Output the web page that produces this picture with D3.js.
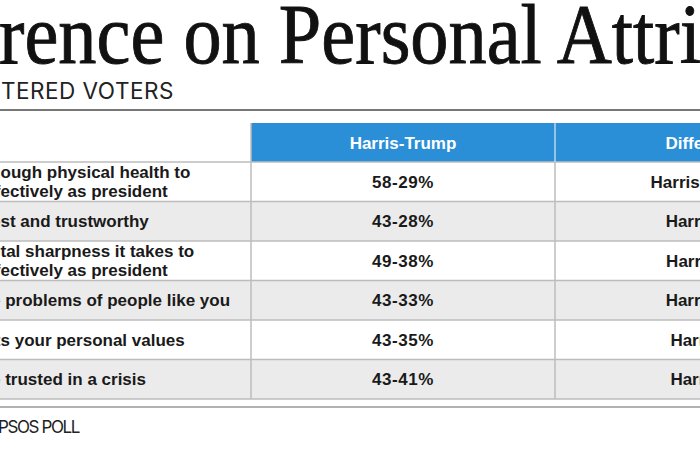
<!DOCTYPE html>
<meta charset="utf-8">
<style>
  body { margin: 0; background: #fff; }
  svg { display: block; }
</style>
<body>
<script src="https://cdn.jsdelivr.net/npm/d3@7"></script>
<script>

// table content
var title = "Difference on Personal Attributes";
var subtitle = "REGISTERED VOTERS";
var source = "REUTERS/IPSOS POLL";
var columns = ["Harris-Trump", "Difference"];
var attributes = [
  ["Has enough physical health to", "serve effectively as president"],
  ["Honest and trustworthy"],
  ["Has the mental sharpness it takes to", "serve effectively as president"],
  ["Understands the problems of people like you"],
  ["Represents your personal values"],
  ["Can be trusted in a crisis"]
];
var harrisTrump = ["58-29%", "43-28%", "49-38%", "43-33%", "43-35%", "43-41%"];
var difference = ["Harris +29 pts", "Harris +15", "Harris +11", "Harris +10", "Harris +8", "Harris +2"];
// how many characters of each label line fall outside the cropped picture
var cropAt = [[6, 9], [4], [11, 9], [15], [9], [6]];

var width = 700,
    height = 450;

var sans = "'Liberation Sans', Arial, sans-serif";

var svg = d3.select("body").append("svg")
    .attr("width", width)
    .attr("height", height);

// shift a text left so that its first n chars fall off the picture
function crop(sel, n, x0) {
  sel.each(function() {
    var w = n > 0 ? this.getSubStringLength(0, n) : 0;
    d3.select(this).attr("x", x0 - w);
  });
}

// title: set tall, then squeezed to the reference's narrower face
var t = svg.append("text")
    .attr("font-family", "'Liberation Serif', 'DejaVu Serif', serif")
    .attr("font-size", 85)
    .attr("fill", "#111")
    .attr("stroke", "#111")
    .attr("stroke-width", 0.9)
    .text(title);
var pre = t.node().getSubStringLength(0, 5);
var seen = t.node().getSubStringLength(5, 23);
var sx = 702 / seen;
t.attr("x", -pre).attr("transform", "translate(-1,63) scale(" + sx + ",1)");

svg.append("text")
    .attr("y", 99)
    .attr("font-family", "Inter, 'Liberation Sans', sans-serif")
    .attr("font-size", 22.5)
    .attr("letter-spacing", 0.5)
    .attr("fill", "#222")
    .text(subtitle)
    .call(crop, 5, 1);

svg.append("line")
    .attr("x1", 0).attr("x2", width)
    .attr("y1", 110).attr("y2", 110)
    .attr("stroke", "#777").attr("stroke-width", 2);

// scales
var y = d3.scaleBand()
    .domain(d3.range(attributes.length))
    .range([162, 399]);

var x = d3.scaleBand()
    .domain(columns)
    .range([251, 859]);

var headTop = 123;

// row backgrounds
svg.append("g").selectAll("rect")
  .data(attributes)
  .join("rect")
    .attr("x", 0)
    .attr("y", function(d, i) { return y(i); })
    .attr("width", width)
    .attr("height", y.bandwidth())
    .attr("fill", function(d, i) { return i % 2 ? "#ebebeb" : "#fff"; });

// header
svg.append("rect")
    .attr("x", x.range()[0])
    .attr("y", headTop)
    .attr("width", x.range()[1] - x.range()[0])
    .attr("height", y.range()[0] - headTop)
    .attr("fill", "#2a8fd7");

svg.append("g").selectAll("text")
  .data(columns)
  .join("text")
    .attr("x", function(d) { return x(d) + x.bandwidth() / 2; })
    .attr("y", (headTop + y.range()[0]) / 2 + 6)
    .attr("text-anchor", "middle")
    .attr("font-family", sans)
    .attr("font-weight", "bold")
    .attr("font-size", 17)
    .attr("fill", "#fff")
    .text(function(d) { return d; });

// grid lines
svg.append("g").selectAll("line")
  .data(d3.range(attributes.length + 1))
  .join("line")
    .attr("x1", 0).attr("x2", width)
    .attr("y1", function(i) { return i < attributes.length ? y(i) : y.range()[1]; })
    .attr("y2", function(i) { return i < attributes.length ? y(i) : y.range()[1]; })
    .attr("stroke", "#bcbcbc").attr("stroke-width", 1.5);

svg.append("g").selectAll("line")
  .data(columns)
  .join("line")
    .attr("x1", function(d) { return x(d); })
    .attr("x2", function(d) { return x(d); })
    .attr("y1", function(d, i) { return i ? y.range()[0] : headTop; })
    .attr("y2", y.range()[1])
    .attr("stroke", "#bcbcbc")
    .attr("stroke-width", 1.5);

svg.append("line")
    .attr("x1", x("Difference")).attr("x2", x("Difference"))
    .attr("y1", headTop).attr("y2", y.range()[0])
    .attr("stroke", "#bcd6ea").attr("stroke-width", 1.5);

// row labels
var rowsG = svg.append("g")
    .attr("font-family", sans)
    .attr("font-weight", "bold")
    .attr("fill", "#1a1a1a");

attributes.forEach(function(lines, i) {
  var mid = y(i) + y.bandwidth() / 2;
  lines.forEach(function(line, j) {
    rowsG.append("text")
        .attr("y", mid + 6 + (j - (lines.length - 1) / 2) * 19)
        .attr("font-size", 17)
        .text(line)
        .call(crop, cropAt[i][j], 0.5);
  });
});

// values
rowsG.selectAll(".ht")
  .data(harrisTrump)
  .join("text")
    .attr("class", "ht")
    .attr("x", x("Harris-Trump") + x.bandwidth() / 2)
    .attr("y", function(d, i) { return y(i) + y.bandwidth() / 2 + 6; })
    .attr("text-anchor", "middle")
    .attr("font-size", 17)
    .attr("letter-spacing", 0.6)
    .text(function(d) { return d; });

rowsG.selectAll(".df")
  .data(difference)
  .join("text")
    .attr("class", "df")
    .attr("x", x("Difference") + x.bandwidth() / 2)
    .attr("y", function(d, i) { return y(i) + y.bandwidth() / 2 + 6; })
    .attr("text-anchor", "middle")
    .attr("font-size", 17)
    .text(function(d) { return d; });

// bottom rule + source
svg.append("line")
    .attr("x1", 0).attr("x2", width)
    .attr("y1", 407).attr("y2", 407)
    .attr("stroke", "#999").attr("stroke-width", 1.5);

svg.append("text")
    .attr("y", 433)
    .attr("font-family", "Inter, 'Liberation Sans', sans-serif")
    .attr("font-size", 17)
    .attr("letter-spacing", -1.4)
    .attr("fill", "#222")
    .text(source)
    .call(crop, 9, -2);

</script>
</body>
